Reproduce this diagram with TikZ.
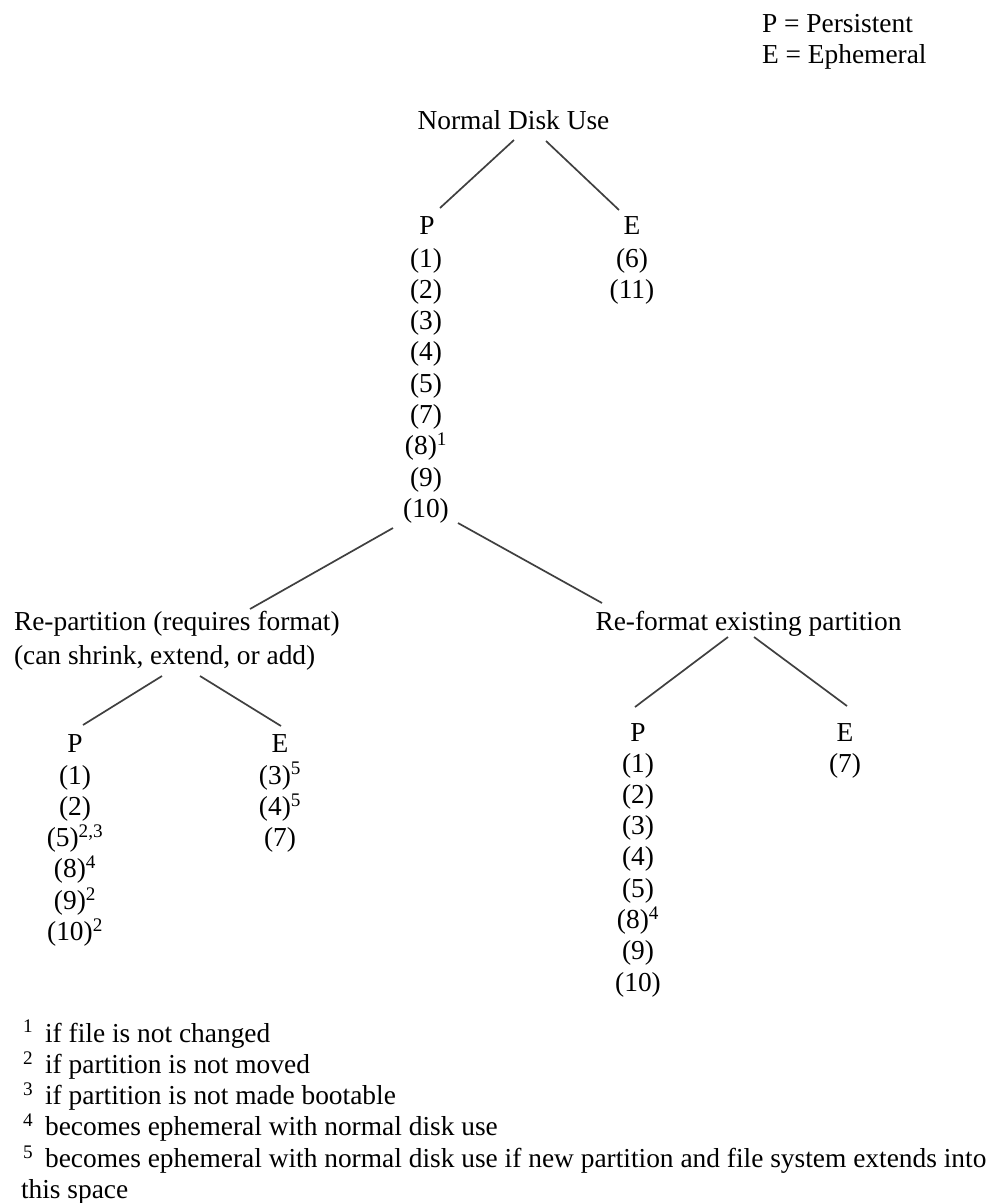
\documentclass[tikz,border=0pt]{standalone}
\usepackage{fontspec}
\setmainfont{Liberation Serif}
\usetikzlibrary{calc}
\newcommand\ccol[1]{\begin{tabular}[t]{@{}c@{}}#1\end{tabular}}
\newcommand\lcol[1]{\begin{tabular}[t]{@{}l@{}}#1\end{tabular}}
\newcommand\sps[1]{\textsuperscript{#1}}
\newcommand\fn[1]{\hspace{2pt}\sps{#1}\hspace{12pt}}
\begin{document}
\begin{tikzpicture}[x=1pt,y=-1pt,
  every node/.style={inner sep=0pt, outer sep=0pt, font=\fontsize{27.4}{31.3}\selectfont},
  txt/.style={anchor=base},
  txtl/.style={anchor=base west},
  edge/.style={line width=1.7pt, draw=black!75}]
\fill[white] (0,0) rectangle (992,1203);
\useasboundingbox (0,0) rectangle (992,1203);

% legend
\node[txtl] (legend) at (762,32) {\lcol{P = Persistent\\E = Ephemeral}};

% root
\node[txt] (nd) at (513.5,129) {Normal Disk Use};
\node[txt] (P1) at (427,234) {P};
\node[txt] (E1) at (632,234) {E};
\node[txt] (LP1) at (426,267) {\ccol{(1)\\(2)\\(3)\\(4)\\(5)\\(7)\\(8)\sps{1}\\(9)\\(10)}};
\node[txt] (LE1) at (632,267) {\ccol{(6)\\(11)}};

% second level
\node[txtl] (rp) at (14,630) {\lcol{Re-partition (requires format)\\[3pt](can shrink, extend, or add)}};
\node[txt] (rf) at (748.5,630) {Re-format existing partition};

% re-partition subtree
\node[txt] (P2) at (75,752) {P};
\node[txt] (E2) at (280,752) {E};
\node[txt] (LP2) at (75,784) {\ccol{(1)\\(2)\\(5)\sps{2,3}\\(8)\sps{4}\\(9)\sps{2}\\(10)\sps{2}}};
\node[txt] (LE2) at (280,784) {\ccol{(3)\sps{5}\\(4)\sps{5}\\(7)}};

% re-format subtree
\node[txt] (P3) at (638,741) {P};
\node[txt] (E3) at (845,741) {E};
\node[txt] (LP3) at (638,772) {\ccol{(1)\\(2)\\(3)\\(4)\\(5)\\(8)\sps{4}\\(9)\\(10)}};
\node[txt] (LE3) at (845,772) {\ccol{(7)}};

% footnotes
\node[txtl] (notes) at (21,1042) {\lcol{%
\fn{1}if file is not changed\\
\fn{2}if partition is not moved\\
\fn{3}if partition is not made bootable\\
\fn{4}becomes ephemeral with normal disk use\\
\fn{5}becomes ephemeral with normal disk use if new partition and file system extends into\\
this space}};

% connectors
\draw[edge] ($(nd.base)+(0.5,11)$) -- ($(P1.base)+(13,-26)$);
\draw[edge] ($(nd.base)+(32.5,12)$) -- ($(E1.base)+(-13,-24)$);
\draw[edge] ($(LP1.base)+(-33,261)$) -- ($(rp.base west)+(236,-21)$);
\draw[edge] ($(LP1.base)+(32,256)$) -- ($(rf.base)+(-146.5,-27)$);
\draw[edge] ($(rp.base west)+(148,46)$) -- ($(P2.base)+(8,-27)$);
\draw[edge] ($(rp.base west)+(186,46)$) -- ($(E2.base)+(1,-26)$);
\draw[edge] ($(rf.base)+(-20.5,7)$) -- ($(P3.base)+(-3,-34)$);
\draw[edge] ($(rf.base)+(5.5,7)$) -- ($(E3.base)+(2,-35)$);
\end{tikzpicture}
\end{document}
